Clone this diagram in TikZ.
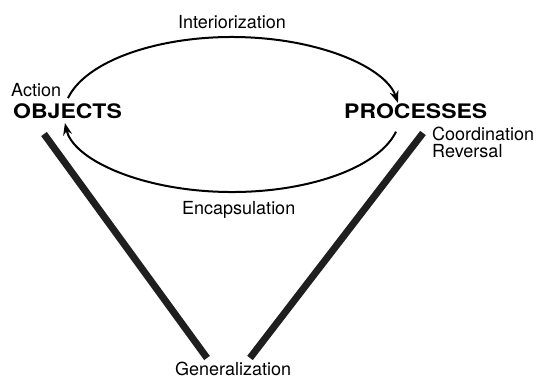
\documentclass[tikz,border=0pt]{standalone}
\usepackage{fontspec}
\setmainfont{TeX Gyre Heros}
\usetikzlibrary{arrows.meta,calc}
\begin{document}
\begin{tikzpicture}[x=1pt,y=-1pt,
  lbl/.style={anchor=base west,inner sep=0pt,font=\fontsize{18}{18}\selectfont},
  big/.style={anchor=base west,inner sep=0pt,font=\fontsize{20}{20}\selectfont\bfseries,xscale=1.15},
  cycle/.style={line width=2pt,-{Stealth[length=12pt,width=9pt,inset=4pt]}},
  bar/.style={line width=7pt,black!88}]
\useasboundingbox (0,0) rectangle (540,381);
\node[lbl] (int) at (178,28) {Interiorization};
\node[lbl] (act) at (11,96) {Action};
\node[big] (obj) at (13,118) {OBJECTS};
\node[big] (proc) at (344,118) {PROCESSES};
\node[lbl] (coord) at (432,140) {Coordination};
\node[lbl] (rev) at (432,157) {Reversal};
\node[lbl] (enc) at (182,214) {Encapsulation};
\node[lbl] (gen) at (175,375) {Generalization};
% ellipse arcs between OBJECTS and PROCESSES
\coordinate (ts) at ($(232,115)+(167.5:168 and -78)$);
\coordinate (bs) at ($(232,115)+(-12.5:168 and -77)$);
\draw[cycle] (ts) arc[start angle=167.5,end angle=9,x radius=168,y radius=-78];
\draw[cycle] (bs) arc[start angle=-12.5,end angle=-174,x radius=168,y radius=-77];
% bars
\coordinate (lt) at (44,134);
\coordinate (lb) at (207,358);
\coordinate (rt) at (423,133);
\coordinate (rb) at (250,358);
\draw[bar] (lt) -- (lb);
\draw[bar] (rt) -- (rb);
\end{tikzpicture}
\end{document}
